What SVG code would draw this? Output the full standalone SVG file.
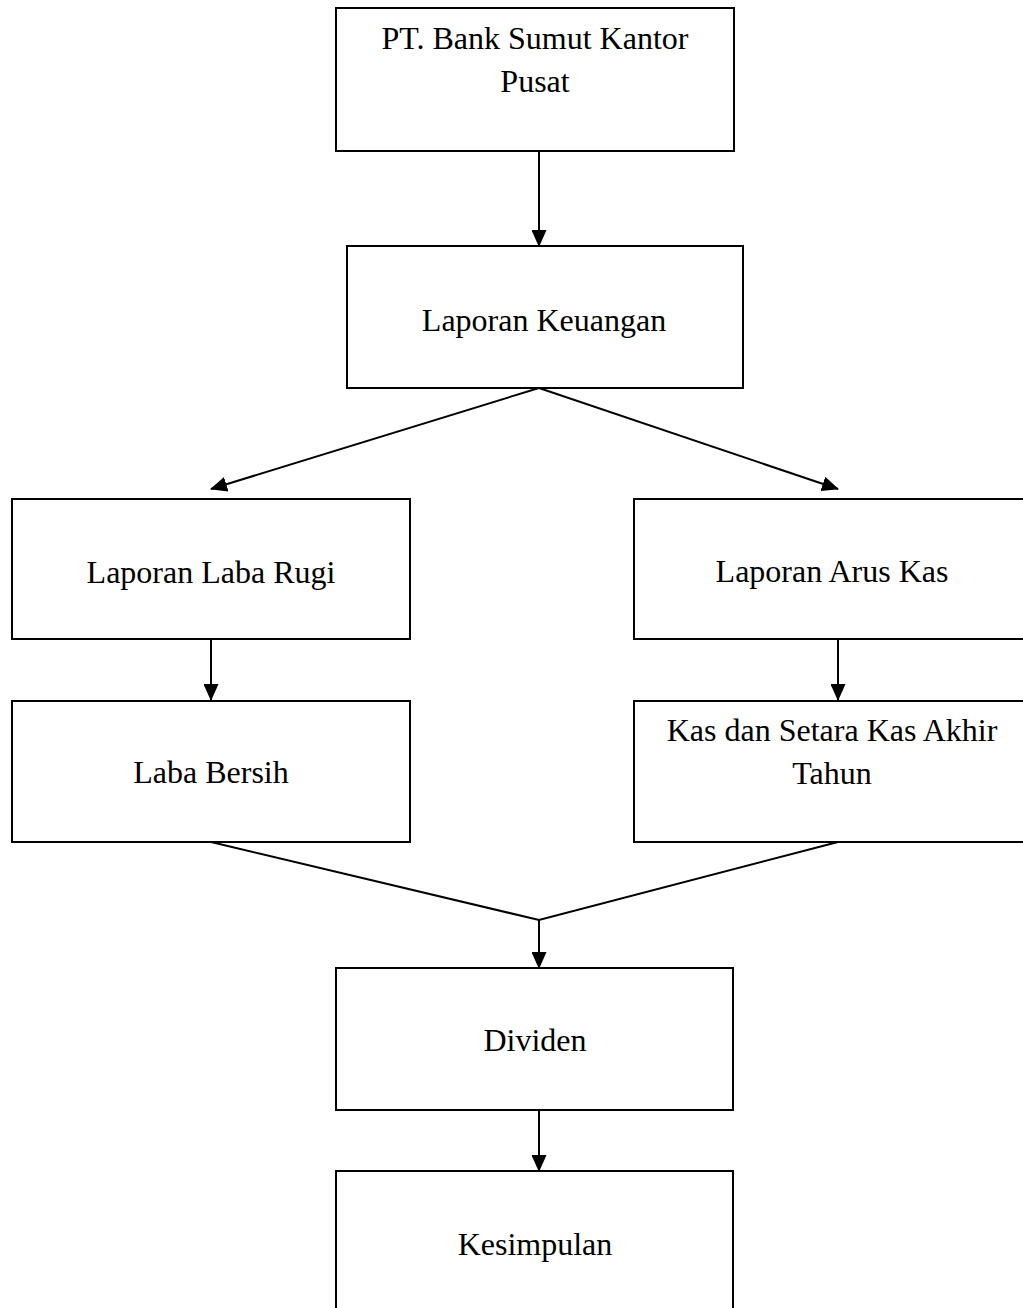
<svg xmlns="http://www.w3.org/2000/svg" width="1023" height="1308" viewBox="0 0 1023 1308">
<style>
.box{fill:#fff;stroke:#000;stroke-width:2}
.lbl{font-family:"Liberation Serif","Times New Roman",serif;font-size:32px;fill:#000;text-anchor:middle}
.con{fill:none;stroke:#000;stroke-width:2}
</style>
<defs>
<marker id="ah" markerUnits="userSpaceOnUse" markerWidth="17" markerHeight="15" refX="16" refY="7.5" orient="auto">
<path d="M0,0 L17,7.5 L0,15 Z" fill="#000"/>
</marker>
</defs>
<rect width="1023" height="1308" fill="#fff"/>
<g id="connectors">
<line class="con" x1="539" y1="151" x2="539" y2="246" marker-end="url(#ah)"/>
<line class="con" x1="539" y1="388" x2="211" y2="489" marker-end="url(#ah)"/>
<line class="con" x1="539" y1="388" x2="838" y2="489" marker-end="url(#ah)"/>
<line class="con" x1="211" y1="639" x2="211" y2="700" marker-end="url(#ah)"/>
<line class="con" x1="838" y1="639" x2="838" y2="700" marker-end="url(#ah)"/>
<polyline class="con" points="211,842 539,920 838,842"/>
<line class="con" x1="539" y1="920" x2="539" y2="968" marker-end="url(#ah)"/>
<line class="con" x1="539" y1="1110" x2="539" y2="1171" marker-end="url(#ah)"/>
</g>
<g id="n1"><rect class="box" x="336" y="8" width="398" height="143"/><text class="lbl" x="535" y="49">PT. Bank Sumut Kantor</text><text class="lbl" x="535" y="92">Pusat</text></g>
<g id="n2"><rect class="box" x="347" y="246" width="396" height="142"/><text class="lbl" x="544" y="331">Laporan Keuangan</text></g>
<g id="n3"><rect class="box" x="12" y="499" width="398" height="140"/><text class="lbl" x="211" y="583">Laporan Laba Rugi</text></g>
<g id="n4"><rect class="box" x="634" y="499" width="400" height="140"/><text class="lbl" x="832" y="582">Laporan Arus Kas</text></g>
<g id="n5"><rect class="box" x="12" y="701" width="398" height="141"/><text class="lbl" x="211" y="783">Laba Bersih</text></g>
<g id="n6"><rect class="box" x="634" y="701" width="400" height="141"/><text class="lbl" x="832" y="741">Kas dan Setara Kas Akhir</text><text class="lbl" x="832" y="784">Tahun</text></g>
<g id="n7"><rect class="box" x="336" y="968" width="397" height="142"/><text class="lbl" x="535" y="1051">Dividen</text></g>
<g id="n8"><rect class="box" x="336" y="1171" width="397" height="150"/><text class="lbl" x="535" y="1255">Kesimpulan</text></g>
</svg>
